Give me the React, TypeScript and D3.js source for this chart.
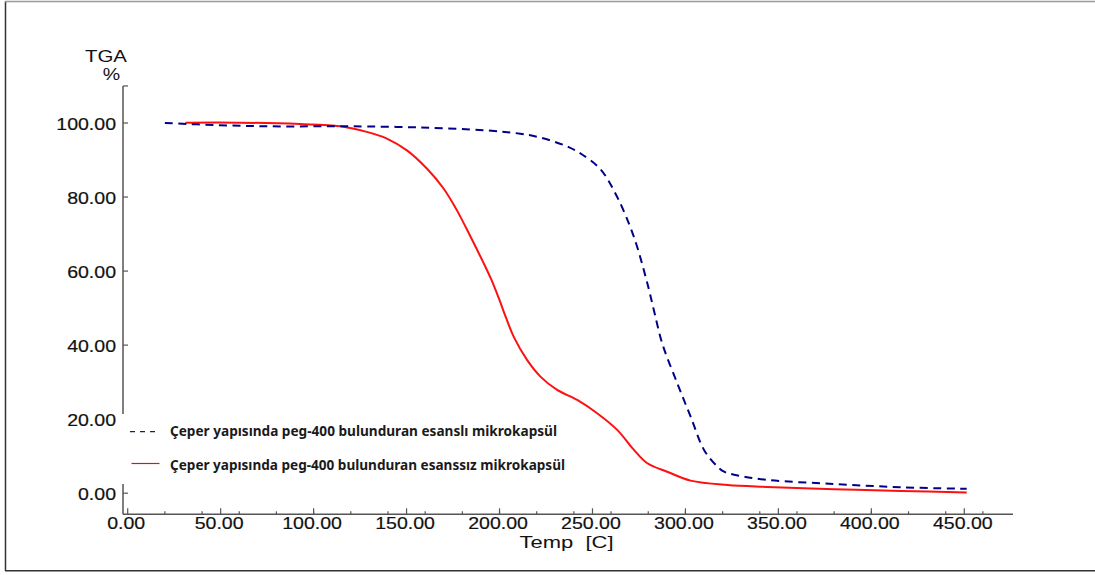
import React, { useEffect, useRef } from "react";
import * as d3 from "d3";

// Esanslı mikrokapsül (blue dashed)
const esansliTemp = [20, 49.6, 76.5, 103.4, 121, 157, 193, 211.2, 220, 229.2, 237.2, 243.5, 254.3, 263.3, 272.3, 279.5, 283, 287.5, 295.6, 302.8, 310, 317.2, 320.8, 326.2, 344, 380, 416, 451.3];
const esansliTGA = [100, 99.4, 99.1, 99.1, 99.1, 98.8, 98, 97.1, 96.3, 95, 93.5, 91.8, 87.5, 80, 69.2, 56.7, 49.5, 40.5, 29.7, 20.7, 11.7, 7.2, 5.8, 5.0, 3.6, 2.5, 1.6, 1.2];

// Esanssız mikrokapsül (red solid)
const esanssizTemp = [31, 60, 92.7, 114.2, 128.6, 139.4, 150.2, 160.9, 169.9, 177.1, 184.3, 191.4, 195.5, 199.5, 203.5, 207.6, 214.8, 222, 231, 241.8, 252.5, 263.3, 272.3, 279.5, 290.2, 302.8, 322.6, 344, 380, 416, 451.3];
const esanssizTGA = [100.1, 100.1, 99.7, 99.1, 97.6, 95.8, 92.6, 87.7, 82.3, 76.4, 69.4, 62.2, 57.8, 52.8, 47.4, 42.3, 36, 31.5, 27.9, 25.2, 21.6, 17.1, 11.7, 8.1, 5.8, 3.4, 2.2, 1.7, 1.1, 0.6, 0.2];

const xTickLabels = [0, 50, 100, 150, 200, 250, 300, 350, 400, 450];
const xMinorTicks = [20, 40, 60, 80, 100, 120, 140, 160, 180, 200, 220, 240, 260, 280, 300, 320, 340, 360, 380, 400, 420, 440, 460];
const yTickLabels = [0, 20, 40, 60, 80, 100];
const legendLabels = [
  "Çeper yapısında peg-400 bulunduran esanslı mikrokapsül",
  "Çeper yapısında peg-400 bulunduran esanssız mikrokapsül",
];

export default function App() {
  const ref = useRef<SVGSVGElement | null>(null);

  useEffect(() => {
    const svg = d3.select(ref.current);
    svg.selectAll("*").remove();

    const x = d3.scaleLinear().domain([0, 450]).range([127.7, 964.3]);
    const y = d3.scaleLinear().domain([0, 100]).range([493.2, 123]);
    const xAxisY = 514.3;
    const yAxisX = 123;
    const xEnd = 1013;
    const yTop = y(110);
    const axisColor = "#555";

    // frame
    svg.append("line").attr("x1", 5.5).attr("x2", 5.5).attr("y1", 1).attr("y2", 571).attr("stroke", "#333").attr("stroke-width", 1.5);
    svg.append("line").attr("x1", 5).attr("x2", 1095).attr("y1", 1.5).attr("y2", 1.5).attr("stroke", "#999").attr("stroke-width", 1.5);
    svg.append("line").attr("x1", 5).attr("x2", 1095).attr("y1", 570.8).attr("y2", 570.8).attr("stroke", "#333").attr("stroke-width", 1.5);

    // axes
    svg.append("line").attr("x1", yAxisX).attr("x2", yAxisX).attr("y1", yTop).attr("y2", xAxisY).attr("stroke", axisColor).attr("stroke-width", 1.5);
    svg.append("line").attr("x1", yAxisX).attr("x2", xEnd).attr("y1", xAxisY).attr("y2", xAxisY).attr("stroke", axisColor).attr("stroke-width", 1.5);

    const font = "'Liberation Sans', Arial, sans-serif";

    // y ticks
    [...yTickLabels, 110].forEach((v) => {
      svg.append("line").attr("x1", yAxisX).attr("x2", yAxisX + 5).attr("y1", y(v)).attr("y2", y(v)).attr("stroke", axisColor).attr("stroke-width", 1.2);
    });
    yTickLabels.forEach((v) => {
      svg.append("text")
        .attr("transform", `translate(${116},${y(v) + 6.6}) scale(1.15,1)`)
        .attr("text-anchor", "end")
        .attr("font-family", font)
        .attr("font-size", 17)
        .attr("fill", "#111")
        .attr("stroke", "#111").attr("stroke-width", 0.2)
        .text(d3.format(".2f")(v));
    });

    // x ticks
    xMinorTicks.forEach((v) => {
      svg.append("line").attr("x1", x(v)).attr("x2", x(v)).attr("y1", xAxisY).attr("y2", xAxisY - 3).attr("stroke", axisColor).attr("stroke-width", 1.2);
    });
    xTickLabels.forEach((v) => {
      svg.append("line").attr("x1", x(v)).attr("x2", x(v)).attr("y1", xAxisY).attr("y2", xAxisY - 6).attr("stroke", axisColor).attr("stroke-width", 1.2);
      svg.append("text")
        .attr("transform", `translate(${x(v) - 1.5},${529.3}) scale(1.15,1)`)
        .attr("text-anchor", "middle")
        .attr("font-family", font)
        .attr("font-size", 17)
        .attr("fill", "#111")
        .attr("stroke", "#111").attr("stroke-width", 0.2)
        .text(d3.format(".2f")(v));
    });

    // axis titles
    svg.append("text")
      .attr("transform", `translate(106,61.5) scale(1.2,1)`)
      .attr("text-anchor", "middle").attr("font-family", font).attr("font-size", 17).attr("fill", "#111").text("TGA");
    svg.append("text")
      .attr("transform", `translate(111.5,80) scale(1.15,1)`)
      .attr("text-anchor", "middle").attr("font-family", font).attr("font-size", 17).attr("fill", "#111").text("%");
    svg.append("text")
      .attr("x", 519.5).attr("y", 548.3)
      .attr("textLength", 94).attr("lengthAdjust", "spacingAndGlyphs")
      .attr("font-family", font).attr("font-size", 16.5).attr("fill", "#111")
      .style("white-space", "pre")
      .text("Temp  [C]");

    // lines
    const line = d3.line<[number, number]>()
      .x((d) => x(d[0]))
      .y((d) => y(d[1]))
      .curve(d3.curveCatmullRom.alpha(0.5));

    const esansli: [number, number][] = esansliTemp.map((t, i) => [t, esansliTGA[i]]);
    const esanssiz: [number, number][] = esanssizTemp.map((t, i) => [t, esanssizTGA[i]]);

    svg.append("path").attr("d", line(esanssiz)).attr("fill", "none").attr("stroke", "#ff1010").attr("stroke-width", 2);
    svg.append("path").attr("d", line(esansli)).attr("fill", "none").attr("stroke", "#000088").attr("stroke-width", 2).attr("stroke-dasharray", "8,5.5");

    // legend
    svg.append("rect").attr("x", 119).attr("y", 414).attr("width", 472).attr("height", 70).attr("fill", "#fff");
    svg.append("line").attr("x1", 130).attr("x2", 158.5).attr("y1", 431.7).attr("y2", 431.7).attr("stroke", "#222244").attr("stroke-width", 1.2).attr("stroke-dasharray", "5,5");
    svg.append("line").attr("x1", 131.5).attr("x2", 159.5).attr("y1", 463.5).attr("y2", 463.5).attr("stroke", "#c02020").attr("stroke-width", 1.2);
    const legendLens = [387, 395];
    legendLabels.forEach((t, i) => {
      svg.append("text")
        .attr("x", 170).attr("y", 435.5 + i * 34.5)
        .attr("textLength", legendLens[i]).attr("lengthAdjust", "spacingAndGlyphs")
        .attr("font-family", "'Noto Sans', 'Open Sans', sans-serif")
        .attr("font-weight", 700)
        .attr("font-size", 14.5)
        .attr("fill", "#1a1a1a")
        .text(t);
    });
  }, []);

  return (
    <svg
      ref={ref}
      width={1095}
      height={575}
      style={{ position: "absolute", left: 0, top: 0, background: "#fff" }}
    />
  );
}
